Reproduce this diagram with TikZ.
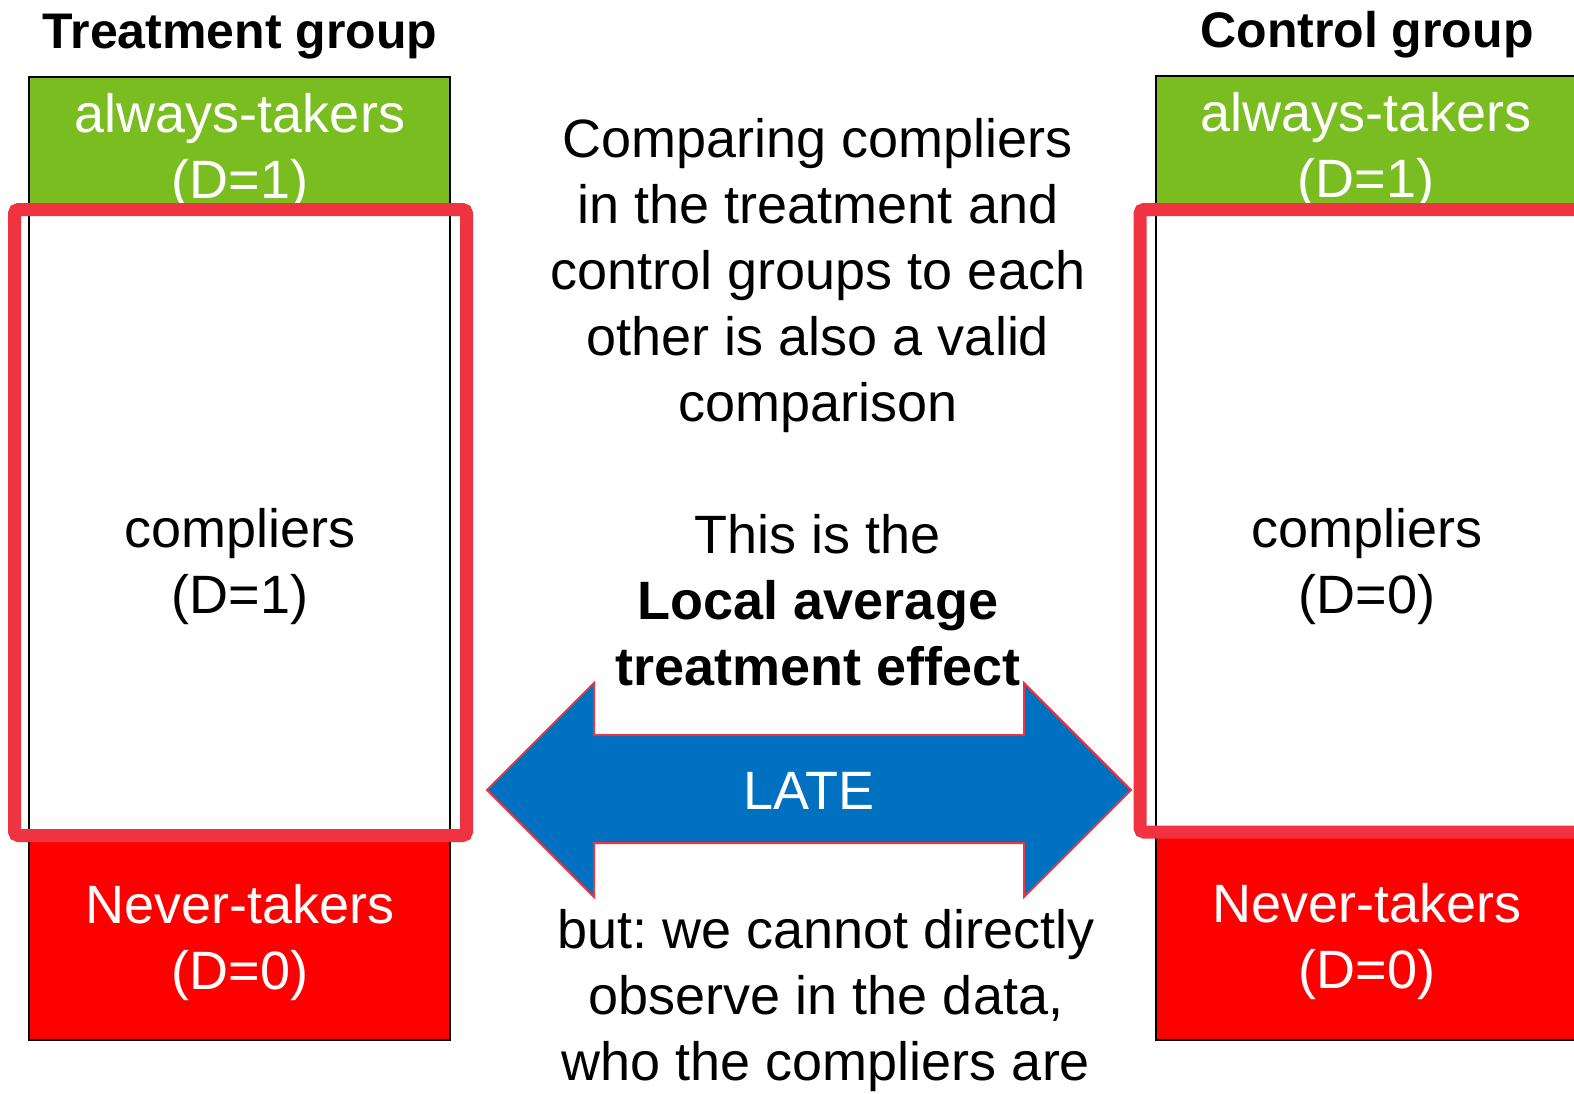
\documentclass[tikz,border=0pt]{standalone}
\usepackage{fontspec}
\setmainfont{Liberation Sans}
\frenchspacing
\definecolor{atgreen}{HTML}{7ABD21}
\definecolor{ntred}{HTML}{FF0000}
\definecolor{framered}{HTML}{EF3340}
\definecolor{lateblue}{HTML}{0070C0}
\tikzset{
  big/.style={font=\fontsize{54}{66}\selectfont, align=center, inner sep=0pt},
  ttl/.style={font=\fontsize{50}{60}\selectfont\bfseries, inner sep=0pt},
  wtxt/.style={big, text=white},
  cell/.style={draw=black, line width=2pt},
  frame/.style={draw=framered, line width=13pt, rounded corners=4pt},
}
\begin{document}
\begin{tikzpicture}[x=1pt,y=-1pt]
\useasboundingbox (0,0) rectangle (1574,1093);
\clip (0,0) rectangle (1574,1093);
% titles
\node[ttl] (tt) at (240,37) {Treatment group};
\node[ttl] (ct) at (1367,35) {Control group};
% left column
\fill[atgreen] (29,77) rectangle (450,208);
\node[wtxt] (lat) at (240,152) {always-takers\\(D=1)};
\fill[white] (29,208) rectangle (450,838);
\fill[ntred] (29,838) rectangle (450,1040);
\draw[cell] (29,77) rectangle (450,1040);
\node[big] (lco) at (240,567) {compliers\\(D=1)};
\node[wtxt] (lnt) at (240,943) {Never-takers\\(D=0)};
\draw[frame] (14.5,209.5) rectangle (466.5,835.5);
% right column
\fill[atgreen] (1156,76) rectangle (1600,208);
\node[wtxt] (rat) at (1366,151) {always-takers\\(D=1)};
\fill[white] (1156,208) rectangle (1600,836);
\fill[ntred] (1156,836) rectangle (1600,1040);
\draw[cell] (1600,76) -- (1156,76) -- (1156,1040) -- (1600,1040);
\node[big] (rco) at (1367,567) {compliers\\(D=0)};
\node[wtxt] (rnt) at (1367,942) {Never-takers\\(D=0)};
\draw[frame] (1140,209.5) rectangle (1600,832);
% middle text
\node[big] (p1) at (818,276) {Comparing compliers\\in the treatment and\\control groups to each\\other is also a valid\\comparison};
\node[big] (p2) at (818,600) {This is the\\\textbf{Local average}\\\textbf{treatment effect}};
% arrow
\draw[fill=lateblue, draw=framered, line width=2pt, line join=miter]
  (487,790) -- (594,683) -- (594,735) -- (1024,735) -- (1024,683) -- (1131,790)
  -- (1024,897) -- (1024,843) -- (594,843) -- (594,897) -- cycle;
\node[wtxt] (late) at (809,791) {LATE};
\node[big] (p3) at (826,1001) {but: we cannot directly\\observe in the data,\\who the compliers are};
\end{tikzpicture}
\end{document}
